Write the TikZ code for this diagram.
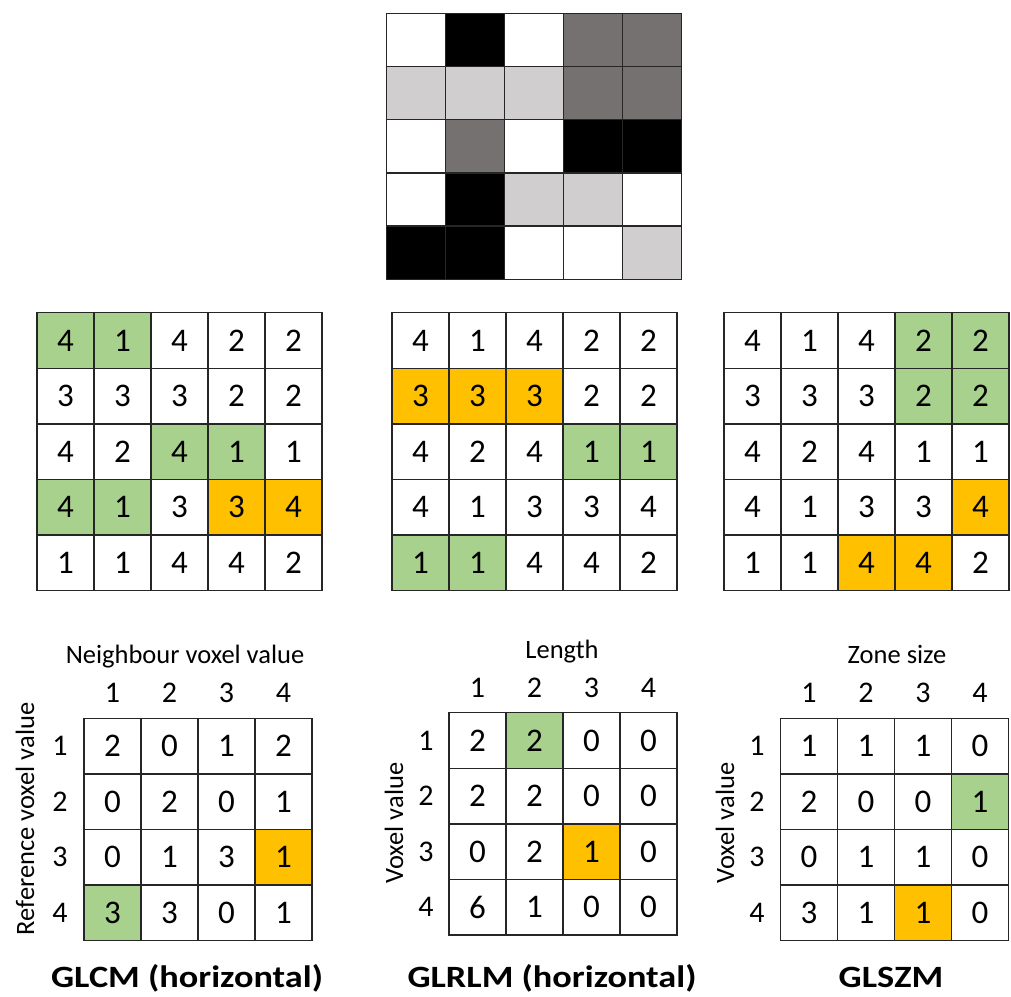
\documentclass[tikz,border=0pt]{standalone}
\usepackage{fontspec}
\setmainfont{Carlito}
\definecolor{cg}{HTML}{A9D18E}
\definecolor{co}{HTML}{FFC000}
\definecolor{cw}{HTML}{FFFFFF}
\definecolor{ck}{HTML}{000000}
\definecolor{cd}{HTML}{767171}
\definecolor{cl}{HTML}{D0CECE}
\newcommand\mkgrid[4]{%
  \foreach \vals [count=\r] in {#4}{%
    \foreach \v/\f [count=\c] in \vals {%
      \node[cell, fill=c\f] (#1-\r-\c) at ({#2+57*(\c-1)},{#3+55.6*(\r-1)}) {\v};
    }%
  }%
}
\newcommand\ttltext[1]{\scalebox{1.17}[1]{#1}}
\begin{document}
\begin{tikzpicture}[x=1pt,y=-1pt,
  gline/.style={draw=black!85, line width=1.3pt},
  pix/.style={gline, minimum width=59pt, minimum height=53.2pt, inner sep=0pt, outer sep=0pt, anchor=north west},
  cell/.style={gline, minimum width=57pt, minimum height=55.6pt, inner sep=0pt, outer sep=0pt, anchor=north west, font=\fontsize{33}{36}\selectfont},
  axnum/.style={font=\fontsize{30}{32}\selectfont, inner sep=0pt},
  axlab/.style={font=\fontsize{26.5}{30}\selectfont, inner sep=0pt, anchor=base},
  ttl/.style={font=\bfseries\fontsize{31}{34}\selectfont, inner sep=0pt, anchor=base}]
\useasboundingbox (0,0) rectangle (1011,996);
% top image
\foreach \vals [count=\r] in {{w,k,w,d,d},{l,l,l,d,d},{w,d,w,k,k},{w,k,l,l,w},{k,k,w,w,l}}{%
  \foreach \f [count=\c] in \vals {%
    \node[pix, fill=c\f] (P-\r-\c) at ({386.7+59*(\c-1)},{13.3+53.2*(\r-1)}) {};
  }%
}
% middle grids
\mkgrid{A}{37}{312.7}{{4/g,1/g,4/w,2/w,2/w},{3/w,3/w,3/w,2/w,2/w},{4/w,2/w,4/g,1/g,1/w},{4/g,1/g,3/w,3/o,4/o},{1/w,1/w,4/w,4/w,2/w}}
\mkgrid{B}{392}{312.7}{{4/w,1/w,4/w,2/w,2/w},{3/o,3/o,3/o,2/w,2/w},{4/w,2/w,4/w,1/g,1/g},{4/w,1/w,3/w,3/w,4/w},{1/g,1/g,4/w,4/w,2/w}}
\mkgrid{C}{724}{312.7}{{4/w,1/w,4/w,2/g,2/g},{3/w,3/w,3/w,2/g,2/g},{4/w,2/w,4/w,1/w,1/w},{4/w,1/w,3/w,3/w,4/o},{1/w,1/w,4/o,4/o,2/w}}
% bottom matrices
\mkgrid{D}{84}{718.3}{{2/w,0/w,1/w,2/w},{0/w,2/w,0/w,1/w},{0/w,1/w,3/w,1/o},{3/g,3/w,0/w,1/w}}
\mkgrid{E}{449}{712.7}{{2/w,2/g,0/w,0/w},{2/w,2/w,0/w,0/w},{0/w,2/w,1/o,0/w},{6/w,1/w,0/w,0/w}}
\mkgrid{F}{780.5}{718.3}{{1/w,1/w,1/w,0/w},{2/w,0/w,0/w,1/g},{0/w,1/w,1/w,0/w},{3/w,1/w,1/o,0/w}}
% GLCM labels
\node[axlab] (Dh) at (185,663) {Neighbour voxel value};
\foreach \i in {1,...,4}{
  \node[axnum] (Dc\i) at ({112.5+57*(\i-1)},693) {\i};
  \node[axnum] (Dr\i) at (60,{746.1+55.6*(\i-1)}) {\i};
}
\node[axlab, anchor=center, rotate=90] (Dv) at (25,819) {Reference voxel value};
\node[ttl] (Dt) at (187,987) {\ttltext{GLCM (horizontal)}};
% GLRLM labels
\node[axlab] (Eh) at (562,658) {Length};
\foreach \i in {1,...,4}{
  \node[axnum] (Ec\i) at ({477.5+57*(\i-1)},688) {\i};
  \node[axnum] (Er\i) at (426,{740.5+55.6*(\i-1)}) {\i};
}
\node[axlab, anchor=center, rotate=90] (Ev) at (394,823) {Voxel value};
\node[ttl] (Et) at (552,987) {\ttltext{GLRLM (horizontal)}};
% GLSZM labels
\node[axlab] (Fh) at (897,663) {Zone size};
\foreach \i in {1,...,4}{
  \node[axnum] (Fc\i) at ({809+57*(\i-1)},693) {\i};
  \node[axnum] (Fr\i) at (757,{746.1+55.6*(\i-1)}) {\i};
}
\node[axlab, anchor=center, rotate=90] (Fv) at (725,823) {Voxel value};
\node[ttl] (Ft) at (891,987) {\ttltext{GLSZM}};
\end{tikzpicture}
\end{document}
